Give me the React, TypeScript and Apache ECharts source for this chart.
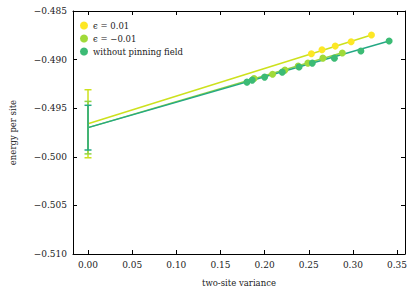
import React, { useEffect, useRef } from "react";
import * as echarts from "echarts";

// ---- data ----
const xTicks = [0, 0.05, 0.1, 0.15, 0.2, 0.25, 0.3, 0.35];

const seriesNames = ["ϵ = 0.01", "ϵ = −0.01", "without pinning field"];

const yellowVar = [0.253, 0.265, 0.28, 0.298, 0.321];
const yellowEnergy = [-0.4894, -0.48899, -0.48861, -0.48817, -0.48747];

const limeVar = [0.188, 0.209, 0.223, 0.238, 0.249, 0.266, 0.288];
const limeEnergy = [-0.49195, -0.4915, -0.49108, -0.49067, -0.49036, -0.48985, -0.48933];

const greenVar = [0.18, 0.186, 0.2, 0.22, 0.239, 0.254, 0.279, 0.309, 0.341];
const greenEnergy = [-0.49232, -0.49211, -0.4918, -0.49129, -0.49077, -0.49036, -0.48985, -0.48912, -0.48809];

// linear fits (start at zero variance, end at largest variance)
const yellowFitX = [0, 0.321];
const yellowFitY = [-0.4966, -0.48747];
const limeFitX = [0, 0.288];
const limeFitY = [-0.497, -0.4893];
const greenFitX = [0, 0.341];
const greenFitY = [-0.497, -0.48809];

// extrapolated value at zero variance with error
const extrapCenter = [-0.4966, -0.497, -0.497];
const extrapError = [0.0035, 0.0027, 0.0023];

const pointColors = ["#fde725", "#a0da39", "#3cbb75"];
const lineColors = ["#cde11d", "#8fd444", "#24a884"];

const FONT = "DejaVu Serif";

const zip = (a: number[], b: number[]) => a.map((v, i) => [v, b[i]]);
const fmtMinus = (s: string) => s.replace("-", "\u2212");

export default function App() {
  const ref = useRef<HTMLDivElement>(null);

  useEffect(() => {
    document.body.style.margin = "0";
    if (!ref.current) return;
    const chart = echarts.init(ref.current, undefined, { renderer: "svg" });

    const errorSeries = (idx: number) => ({
      type: "custom",
      z: 3,
      silent: true,
      data: [[0, extrapCenter[idx] - extrapError[idx], extrapCenter[idx] + extrapError[idx]]],
      renderItem: (params: any, api: any) => {
        const x = api.value(0);
        const lo = api.coord([x, api.value(1)]);
        const hi = api.coord([x, api.value(2)]);
        const hw = 3.5;
        const style = { stroke: lineColors[idx], lineWidth: 1.5 };
        return {
          type: "group",
          children: [
            { type: "line", shape: { x1: lo[0], y1: lo[1], x2: hi[0], y2: hi[1] }, style },
            { type: "line", shape: { x1: lo[0] - hw, y1: lo[1], x2: lo[0] + hw, y2: lo[1] }, style },
            { type: "line", shape: { x1: hi[0] - hw, y1: hi[1], x2: hi[0] + hw, y2: hi[1] }, style },
          ],
        };
      },
    });

    const fitSeries = (idx: number, xs: number[], ys: number[]) => ({
      type: "line",
      z: 2,
      data: zip(xs, ys),
      showSymbol: false,
      silent: true,
      lineStyle: { color: lineColors[idx], width: 1.5 },
    });

    const scatterSeries = (idx: number, xs: number[], ys: number[]) => ({
      name: seriesNames[idx],
      type: "scatter",
      z: 4,
      data: zip(xs, ys),
      symbol: "circle",
      symbolSize: 7,
      itemStyle: { color: pointColors[idx], opacity: 1 },
    });

    const axisCommon = {
      axisLine: { show: true, onZero: false, lineStyle: { color: "#000", width: 1 } },
      axisTick: { show: true, inside: true, length: 4, lineStyle: { color: "#000", width: 1 } },
      splitLine: { show: false },
    };

    chart.setOption({
      animation: false,
      backgroundColor: "#fff",
      textStyle: { fontFamily: FONT },
      grid: { left: 69, right: 10, top: 11, bottom: 43 },
      legend: {
        data: seriesNames,
        orient: "vertical",
        left: 75,
        top: 16,
        itemGap: 4,
        itemWidth: 8,
        itemHeight: 8,
        icon: "circle",
        textStyle: { fontFamily: FONT, fontSize: 8.5, color: "#222" },
      },
      xAxis: [
        {
          type: "value",
          min: -0.017,
          max: 0.359,
          name: "two-site variance",
          nameLocation: "middle",
          nameGap: 24,
          nameTextStyle: { fontFamily: FONT, fontSize: 8.5, color: "#222" },
          ...axisCommon,
          axisTick: { ...axisCommon.axisTick, customValues: xTicks },
          axisLabel: {
            customValues: xTicks,
            formatter: (v: number) => v.toFixed(2),
            fontFamily: FONT,
            fontSize: 9,
            color: "#222",
            margin: 6,
          },
        },
        {
          type: "value",
          position: "top",
          min: -0.017,
          max: 0.359,
          ...axisCommon,
          axisTick: { ...axisCommon.axisTick, customValues: xTicks },
          axisLabel: { show: false, customValues: xTicks },
        },
      ],
      yAxis: [
        {
          type: "value",
          min: -0.51,
          max: -0.485,
          interval: 0.005,
          name: "energy per site",
          nameLocation: "middle",
          nameGap: 56,
          nameTextStyle: { fontFamily: FONT, fontSize: 8.5, color: "#222" },
          ...axisCommon,
          axisLabel: {
            formatter: (v: number) => fmtMinus(v.toFixed(3)),
            fontFamily: FONT,
            fontSize: 9,
            color: "#222",
            margin: 6,
          },
        },
        {
          type: "value",
          position: "right",
          min: -0.51,
          max: -0.485,
          interval: 0.005,
          ...axisCommon,
          axisLabel: { show: false },
        },
      ],
      series: [
        errorSeries(0),
        errorSeries(1),
        errorSeries(2),
        fitSeries(0, yellowFitX, yellowFitY),
        scatterSeries(0, yellowVar, yellowEnergy),
        fitSeries(1, limeFitX, limeFitY),
        scatterSeries(1, limeVar, limeEnergy),
        fitSeries(2, greenFitX, greenFitY),
        scatterSeries(2, greenVar, greenEnergy),
      ],
    });

    return () => chart.dispose();
  }, []);

  return (
    <div
      ref={ref}
      style={{ position: "absolute", left: 0, top: 0, width: 415, height: 297 }}
    />
  );
}
